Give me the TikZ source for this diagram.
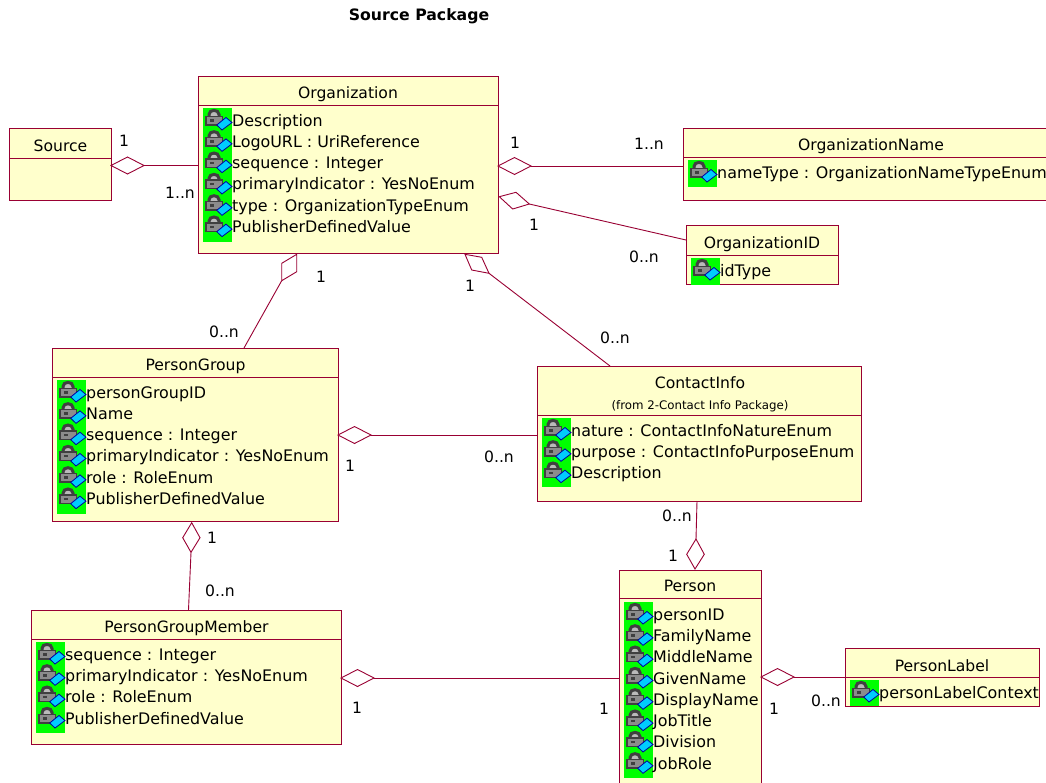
\documentclass[tikz,border=0pt]{standalone}
\usepackage{fontspec}
\setmainfont{DejaVu Sans}
\usetikzlibrary{shapes.geometric}
\definecolor{umlline}{HTML}{990033}
\definecolor{umlfill}{HTML}{FFFFCC}
\definecolor{lockgreen}{HTML}{00FF00}
\definecolor{lockgray}{HTML}{8C8C8C}
\definecolor{lockframe}{HTML}{404040}
\definecolor{lockblue}{HTML}{00CCFF}
\definecolor{lockdark}{HTML}{0000A0}
\tikzset{
  x=1pt,y=-1pt,
  umlbox/.style={draw=umlline,fill=umlfill,line width=1pt,rectangle,anchor=north west,inner sep=0pt,outer sep=0pt},
  rel/.style={draw=umlline,line width=0.9pt},
  aggpoly/.style={draw=umlline,fill=white,line width=0.9pt,line join=miter},
  agg/.style={draw=umlline,fill=white,line width=0.9pt,diamond,aspect=2,minimum width=33pt,minimum height=17pt,inner sep=0pt,outer sep=0pt},
  ttl/.style={font=\fontsize{15.6}{18}\selectfont,text=black,anchor=base,inner sep=0pt},
  attr/.style={font=\fontsize{15.9}{18}\selectfont,text=black,anchor=base west,inner sep=0pt},
  mult/.style={font=\fontsize{15.6}{18}\selectfont,text=black,anchor=base,inner sep=0pt},
  sub/.style={font=\fontsize{11.8}{14}\selectfont,text=black,anchor=base,inner sep=0pt},
}
% name, left, top, width, height, divider y
\newcommand{\umlclass}[6]{%
  \node[umlbox,minimum width=#4pt,minimum height=#5pt] (#1) at (#2,#3) {};
  \draw[umlline,line width=0.8pt] (#2,#6) -- (#2+#4,#6);
}
\newcommand{\lockat}[2]{%
  \begin{scope}[shift={(#1,#2)}]
    \draw[lockframe,fill=lockgray!60,line width=3pt] (6,8) -- (6,6.5) .. controls (6,1) and (16,1) .. (16,6.5) -- (16,8);
    \fill[lockframe] (2,7.5) rectangle (20,17.5);
    \fill[lockgray] (3.5,9) rectangle (18.5,16);
    \fill[lockframe] (7,11) rectangle (11,13.5);
    \draw[lockdark,fill=lockblue,line width=0.8pt] (13.7,17) -- (23,9.5) -- (29,14.5) -- (19,22) -- cycle;
  \end{scope}
}
% prefix, x, ytop, list, green height
\newcommand{\attrlist}[5]{%
  \fill[lockgreen] (#2,#3) rectangle ++(29,#5);
  \foreach \t [count=\i from 0] in {#4} {
    \lockat{#2}{#3+\i*21.33}
    \node[attr] (#1\i) at (#2+29,#3+\i*21.33+18) {\t};
  }
}
\begin{document}
\begin{tikzpicture}
\useasboundingbox (0,0) rectangle (1046,782);
\clip (0,0) rectangle (1046,782);
\fill[white] (0,0) rectangle (1046,782);

\node[font=\bfseries\fontsize{15.7}{18}\selectfont,anchor=base] (title) at (419,20) {Source Package};

% class boxes
\umlclass{source}{9}{128}{102}{72}{158}
\umlclass{organization}{198}{76}{300}{177}{105}
\umlclass{orgname}{683}{128}{370}{72}{157}
\umlclass{orgid}{686}{225}{152}{59}{255}
\umlclass{persongroup}{52}{348}{286}{173}{377}
\umlclass{contactinfo}{537}{366}{324}{135}{415}
\umlclass{member}{31}{610}{310}{134}{639}
\umlclass{person}{619}{570}{142}{230}{598}
\umlclass{personlabel}{845}{648}{194}{58}{677}

% aggregation diamonds
\node[agg] (dSrc) at (127.5,165.5) {};
\node[agg] (dOn) at (514.5,166) {};
\node[agg] (dPc) at (354.5,435) {};
\node[agg] (dPp) at (357.5,678) {};
\node[agg] (dPl) at (777.5,677) {};
\coordinate (dOi) at (529.3,204);
\coordinate (dPg) at (281.7,280.7);
\coordinate (dCi) at (489,273.3);
\coordinate (dPm) at (191,552.3);
\coordinate (dPe) at (696,539);
\draw[aggpoly] (499.3,196.7) -- (516,192.3) -- (dOi) -- (512.7,209) -- cycle;
\draw[aggpoly] (296.7,254.3) -- (281.7,263.3) -- (dPg) -- (296.7,271.7) -- cycle;
\draw[aggpoly] (465,254.3) -- (481.7,257.3) -- (dCi) -- (471.7,270) -- cycle;
\draw[aggpoly] (191.7,522.7) -- (182.7,537.7) -- (dPm) -- (200,537.7) -- cycle;
\draw[aggpoly] (dPe) -- (686.7,554.3) -- (695,569) -- (704.3,554.3) -- cycle;

% connectors
\draw[rel] (dSrc.east) -- (organization.west |- dSrc);
\draw[rel] (dOn.east) -- (orgname.west |- dOn);
\draw[rel] (dOi) -- ([yshift=44pt]orgid.south west);
\draw[rel] (dPg) -- ([xshift=192pt]persongroup.north west);
\draw[rel] (dCi) -- ([xshift=73pt]contactinfo.north west);
\draw[rel] (dPc.east) -- (contactinfo.west |- dPc);
\draw[rel] (dPm) -- ([xshift=157.5pt]member.north west);
\draw[rel] (dPe) -- ([xshift=160pt]contactinfo.south west);
\draw[rel] (dPp.east) -- (person.west |- dPp);
\draw[rel] (dPl.east) -- (personlabel.west |- dPl);

% titles
\node[ttl] (tSource) at (60.5,151) {Source};
\node[ttl] (tOrg) at (348,98) {Organization};
\node[ttl] (tOn) at (871,150) {OrganizationName};
\node[ttl] (tOi) at (762,248) {OrganizationID};
\node[ttl] (tPg) at (195.5,370) {PersonGroup};
\node[ttl] (tCi) at (700,388) {ContactInfo};
\node[sub] (tCi2) at (700,409) {(from 2-Contact Info Package)};
\node[ttl] (tPm) at (186.5,632) {PersonGroupMember};
\node[ttl] (tPe) at (690,591) {Person};
\node[ttl] (tPl) at (942,671) {PersonLabel};

% attributes
\attrlist{aOrg}{203}{108}{Description,LogoURL : UriReference,sequence : Integer,primaryIndicator : YesNoEnum,type : OrganizationTypeEnum,PublisherDefinedValue}{134}
\attrlist{aOn}{688}{160}{nameType : OrganizationNameTypeEnum}{27}
\attrlist{aOi}{691}{258}{idType}{27}
\attrlist{aPg}{57}{380}{personGroupID,Name,sequence : Integer,primaryIndicator : YesNoEnum,role : RoleEnum,PublisherDefinedValue}{134}
\attrlist{aCi}{542}{418}{nature : ContactInfoNatureEnum,purpose : ContactInfoPurposeEnum,Description}{69}
\attrlist{aPm}{36}{642}{sequence : Integer,primaryIndicator : YesNoEnum,role : RoleEnum,PublisherDefinedValue}{91}
\attrlist{aPe}{624}{602}{personID,FamilyName,MiddleName,GivenName,DisplayName,JobTitle,Division,JobRole}{176}
\attrlist{aPl}{850}{680}{personLabelContext}{26}

% multiplicities
\node[mult] (m1) at (124,146) {1};
\node[mult] (m2) at (180,198) {1..n};
\node[mult] (m3) at (515,148) {1};
\node[mult] (m4) at (649,149) {1..n};
\node[mult] (m5) at (534,230) {1};
\node[mult] (m6) at (644,262) {0..n};
\node[mult] (m7) at (321,282) {1};
\node[mult] (m8) at (470,291) {1};
\node[mult] (m9) at (224,337) {0..n};
\node[mult] (m10) at (615,343) {0..n};
\node[mult] (m11) at (350,471) {1};
\node[mult] (m12) at (499,462) {0..n};
\node[mult] (m13) at (677,521) {0..n};
\node[mult] (m14) at (673,561) {1};
\node[mult] (m15) at (212,543) {1};
\node[mult] (m16) at (220,596) {0..n};
\node[mult] (m17) at (357,713) {1};
\node[mult] (m18) at (604,714) {1};
\node[mult] (m19) at (774,714) {1};
\node[mult] (m20) at (826,706) {0..n};
\end{tikzpicture}
\end{document}
